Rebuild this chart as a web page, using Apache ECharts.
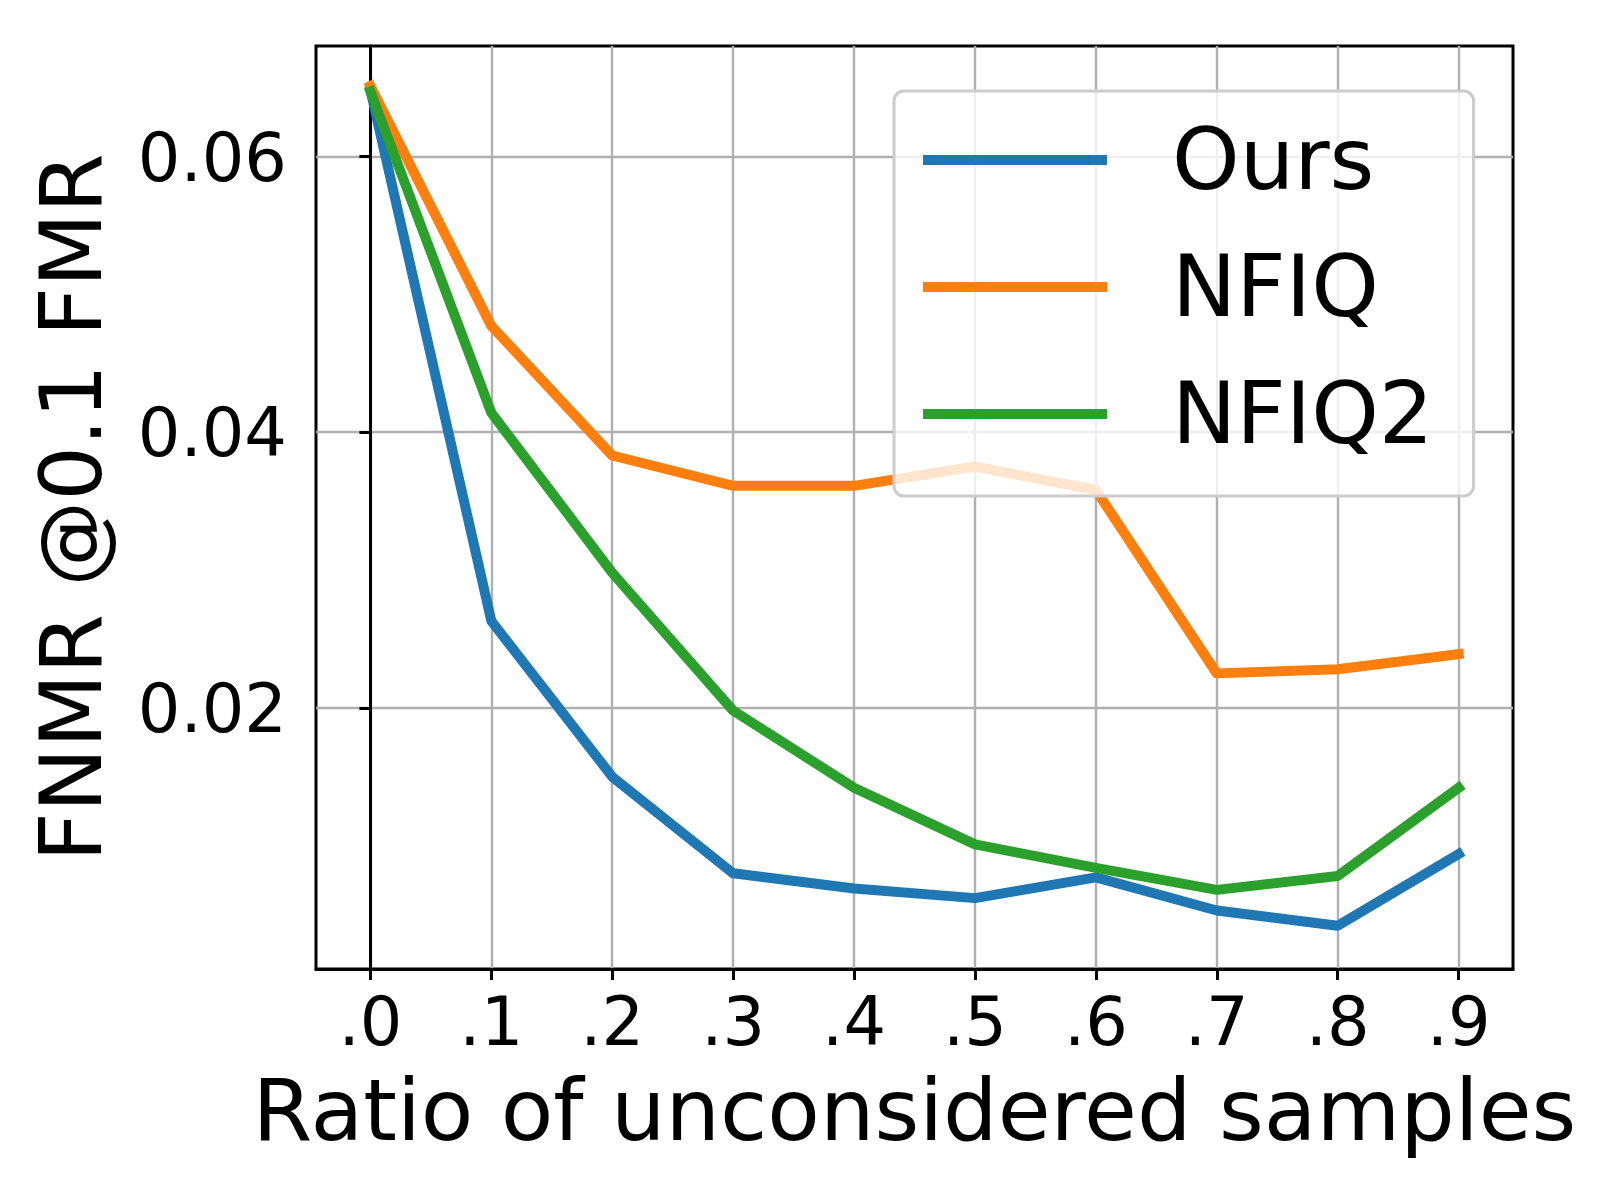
<!DOCTYPE html>
<html>
<head>
<meta charset="utf-8">
<script src="https://cdn.jsdelivr.net/npm/echarts@6/dist/echarts.min.js"></script>
<style>
  html, body { margin: 0; padding: 0; background: #fff; }
  #chart { width: 1600px; height: 1200px; }
</style>
</head>
<body>
<div id="chart"></div>
<script>
// x positions (ratio of unconsidered samples) and their tick labels
const ratios = [0, 0.1, 0.2, 0.3, 0.4, 0.5, 0.6, 0.7, 0.8, 0.9];
const ratioLabels = ['.0', '.1', '.2', '.3', '.4', '.5', '.6', '.7', '.8', '.9'];
const yTicks = [0.02, 0.04, 0.06];

// FNMR @0.1 FMR per method
const ours  = [0.0648, 0.0263, 0.0150, 0.0080, 0.0069, 0.0062, 0.0077, 0.0053, 0.0042, 0.0094];
const nfiq  = [0.0651, 0.0477, 0.0383, 0.0361, 0.0361, 0.0375, 0.0358, 0.0225, 0.0228, 0.0239];
const nfiq2 = [0.0647, 0.0414, 0.0298, 0.0198, 0.0142, 0.0101, 0.0084, 0.0068, 0.0078, 0.0142];

const seriesNames = ['Ours', 'NFIQ', 'NFIQ2'];
const seriesColors = ['#1f77b4', '#ff7f0e', '#2ca02c'];

const font = 'DejaVu Sans';
let myChart = echarts.init(document.getElementById('chart'), null, { renderer: 'canvas' });

function pairs(vals) {
  return vals.map((v, i) => [ratios[i], v]);
}

let series = [ours, nfiq, nfiq2].map((vals, i) => ({
  name: seriesNames[i],
  type: 'line',
  data: pairs(vals),
  showSymbol: false,
  symbol: 'none',
  animation: false,
  color: seriesColors[i],
  lineStyle: { width: 10, color: seriesColors[i], cap: 'square', join: 'round' },
  itemStyle: { color: seriesColors[i] },
}));

let option = {
  backgroundColor: '#ffffff',
  animation: false,
  textStyle: { fontFamily: font },
  grid: {
    left: 316, right: 87, top: 46, bottom: 231,
    show: true, borderColor: '#000', borderWidth: 3, backgroundColor: 'transparent'
  },
  legend: {
    data: seriesNames,
    orient: 'vertical',
    left: 894, top: 91,
    icon: 'rect',
    itemWidth: 184, itemHeight: 10,
    itemGap: 27,
    padding: [19, 40, 32, 29],
    backgroundColor: 'rgba(255,255,255,0.8)',
    borderColor: '#cccccc', borderWidth: 3, borderRadius: 10,
    formatter: '{t|{name}}',
    textStyle: {
      fontFamily: font, fontSize: 86, color: '#000', lineHeight: 100,
      rich: { t: { fontFamily: font, fontSize: 86, color: '#000', lineHeight: 100, padding: [14, 0, 0, 60] } }
    },
  },
  xAxis: {
    type: 'value',
    min: -0.045, max: 0.945,
    name: 'Ratio of unconsidered samples',
    nameLocation: 'middle',
    nameGap: 106,
    nameTextStyle: { fontFamily: font, fontSize: 86, color: '#000' },
    axisLine: { show: true, onZero: false, lineStyle: { color: '#000', width: 3 } },
    axisTick: { show: true, length: 11, lineStyle: { color: '#000', width: 3 }, customValues: ratios },
    axisLabel: {
      customValues: ratios,
      fontFamily: font, fontSize: 67, color: '#000', margin: 25,
      formatter: function (v) {
        let i = Math.round(v * 10);
        return ratioLabels[i];
      }
    },
    splitLine: { show: true, lineStyle: { color: '#b0b0b0', width: 2.4 } },
  },
  yAxis: {
    type: 'value',
    min: 0.00106, max: 0.0680,
    name: 'FNMR @0.1 FMR',
    nameLocation: 'middle',
    nameGap: 194,
    nameRotate: 90,
    nameTextStyle: { fontFamily: font, fontSize: 86, color: '#000' },
    axisLine: { show: true, lineStyle: { color: '#000', width: 3 } },
    axisTick: { show: true, length: 11, lineStyle: { color: '#000', width: 3 }, customValues: yTicks },
    axisLabel: {
      customValues: yTicks,
      fontFamily: font, fontSize: 67, color: '#000', margin: 29,
      formatter: function (v) { return '{v|' + v.toFixed(2) + '}'; },
      rich: { v: { fontFamily: font, fontSize: 67, color: '#000', padding: [14, 0, 0, 0] } }
    },
    splitLine: { show: true, lineStyle: { color: '#b0b0b0', width: 2.4 } },
  },
  series: series,
};

myChart.setOption(option);
</script>
</body>
</html>
